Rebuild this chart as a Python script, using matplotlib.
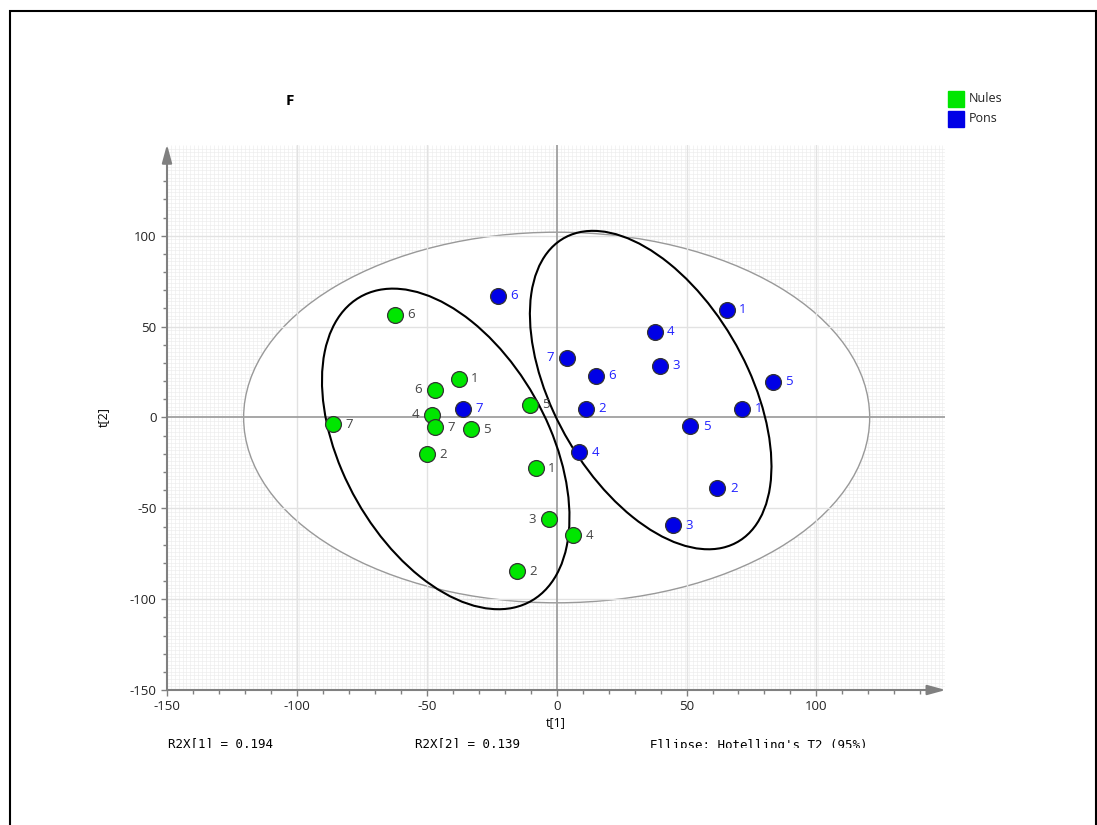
import numpy as np
import matplotlib
matplotlib.use("Agg")
import matplotlib.pyplot as plt
from matplotlib.patches import Ellipse, Rectangle

plt.rcParams['font.family'] = ['Open Sans', 'DejaVu Sans']
plt.rcParams['axes.unicode_minus'] = False

# score values t[1], t[2]
nules_t1 = [-62.3, -37.7, -46.9, -48.1, -46.9, -33.1, -50.0, -86.2, -10.4, -8.1, -3.1, 6.2, -15.4]
nules_t2 = [56.6, 21.4, 15.4, 1.6, -5.5, -6.6, -20.3, -3.8, 7.1, -28.0, -56.0, -64.8, -84.6]
nules_lab = ['6', '1', '6', '4', '7', '5', '2', '7', '5', '1', '3', '4', '2']
nules_side = ['r', 'r', 'l', 'l', 'r', 'r', 'r', 'r', 'r', 'r', 'l', 'r', 'r']

pons_t1 = [-22.7, -36.2, 3.8, 15.0, 11.2, 8.5, 37.7, 39.6, 65.4, 83.1, 71.5, 51.5, 61.9, 44.6]
pons_t2 = [67.0, 4.9, 33.0, 23.1, 4.9, -19.2, 47.3, 28.6, 59.3, 19.8, 4.9, -4.9, -39.0, -59.3]
pons_lab = ['6', '7', '7', '6', '2', '4', '4', '3', '1', '5', '1', '5', '2', '3']
pons_side = ['r', 'r', 'l', 'r', 'r', 'r', 'r', 'r', 'r', 'r', 'r', 'r', 'r', 'r']

# Hotelling T2 ellipse semi-axes and group ellipses (center, semi-major, semi-minor, angle)
hotelling = (120.5, 102.0)
nules_ell = ((-42.7, -17.3), 91.2, 41.7, 106.5)
pons_ell = ((36.2, 15.1), 91.1, 39.3, 107.6)

r2x = ['0,194', '0,139']

green = '#00e600'
blue = '#0000e6'

fig = plt.figure(figsize=(10.97, 8.25), dpi=100)
ax = fig.add_axes([167 / 1097, 1 - 690 / 825, 778 / 1097, 545 / 825])
ax.set_xlim(-150, 149.5)
ax.set_ylim(-150, 150)

# fine background pattern
ax.vlines(np.arange(-150, 150, 1.5), -150, 150, color='#ebebeb', lw=0.4, zorder=0)
ax.hlines(np.arange(-150, 150, 2.0), -150, 150, color='#ebebeb', lw=0.4, zorder=0)

ax.add_patch(Ellipse((0, 0), 2 * hotelling[0], 2 * hotelling[1], facecolor='white',
                     edgecolor='#999999', lw=1, zorder=1))

for v in [-100, -50, 50, 100]:
    ax.axvline(v, color='#e2e2e2', lw=1, zorder=2)
    ax.axhline(v, color='#e2e2e2', lw=1, zorder=2)
ax.axvline(0, color='#a0a0a0', lw=1.3, zorder=2)
ax.axhline(0, color='#a0a0a0', lw=1.3, zorder=2)

for c, a, b, ang in [nules_ell, pons_ell]:
    ax.add_patch(Ellipse(c, 2 * a, 2 * b, angle=ang, fill=False, edgecolor='black', lw=1.5, zorder=3))

ax.scatter(nules_t1, nules_t2, s=130, c=green, edgecolors='#333333', linewidths=0.9, zorder=4)
ax.scatter(pons_t1, pons_t2, s=130, c=blue, edgecolors='#333333', linewidths=0.9, zorder=4)

def put_labels(xs, ys, labs, sides, col):
    for x, y, l, s in zip(xs, ys, labs, sides):
        dx = 9 if s == 'r' else -9
        ax.annotate(l, (x, y), xytext=(dx, 0), textcoords='offset points',
                    ha='left' if s == 'r' else 'right', va='center',
                    fontsize=9.5, color=col, zorder=5)

put_labels(nules_t1, nules_t2, nules_lab, nules_side, '#444444')
put_labels(pons_t1, pons_t2, pons_lab, pons_side, '#2020ff')

for sp in ax.spines.values():
    sp.set_visible(False)
ax.annotate('', xy=(1.001, 0), xytext=(0, 0), xycoords='axes fraction',
            arrowprops=dict(arrowstyle='-|>,head_length=1.1,head_width=0.3', color='#808080',
                            lw=1.5, shrinkA=0, shrinkB=0))
ax.annotate('', xy=(0, 1.001), xytext=(0, 0), xycoords='axes fraction',
            arrowprops=dict(arrowstyle='-|>,head_length=1.1,head_width=0.3', color='#808080',
                            lw=1.5, shrinkA=0, shrinkB=0))

ax.set_xticks([-150, -100, -50, 0, 50, 100])
ax.set_yticks([-150, -100, -50, 0, 50, 100])
ax.set_xticks(np.arange(-140, 150, 10), minor=True)
ax.set_yticks(np.arange(-140, 150, 10), minor=True)
ax.tick_params(which='both', direction='out', color='#808080', labelsize=9.5, labelcolor='#222222')
ax.tick_params(which='major', length=4, width=1)
ax.tick_params(which='minor', length=3, width=1)
ax.set_xlabel('t[1]', fontsize=9, labelpad=2)
ax.set_ylabel('t[2]', fontsize=9, labelpad=14)

# legend squares
fig.patches.append(Rectangle((948 / 1097, 1 - 107 / 825), 16 / 1097, 16 / 825, color=green,
                             transform=fig.transFigure, figure=fig))
fig.patches.append(Rectangle((948 / 1097, 1 - 127 / 825), 16 / 1097, 16 / 825, color=blue,
                             transform=fig.transFigure, figure=fig))
fig.text(969 / 1097, 1 - 99 / 825, 'Nules', fontsize=9, va='center', color='#222222')
fig.text(969 / 1097, 1 - 119 / 825, 'Pons', fontsize=9, va='center', color='#222222')

fig.text(286 / 1097, 1 - 101 / 825, 'F', fontsize=11, fontweight='bold', va='center', color='black')

clip = Rectangle((0, 1 - 748 / 825), 1, 0.2, transform=fig.transFigure)
for x, s in [(168, 'R2X[1] = ' + r2x[0]), (415, 'R2X[2] = ' + r2x[1]),
             (650, "Ellipse: Hotelling's T2 (95%)")]:
    t = fig.text(x / 1097, 1 - 745 / 825, s, fontsize=9, family='DejaVu Sans Mono',
                 va='center', color='black')
    t.set_clip_path(clip)

fig.patches.append(Rectangle((10 / 1097, -0.1), 1086 / 1097, 1.1 - 11 / 825, fill=False,
                             edgecolor='black', lw=1.5, transform=fig.transFigure, figure=fig))

fig.savefig('out.png', dpi=100)
